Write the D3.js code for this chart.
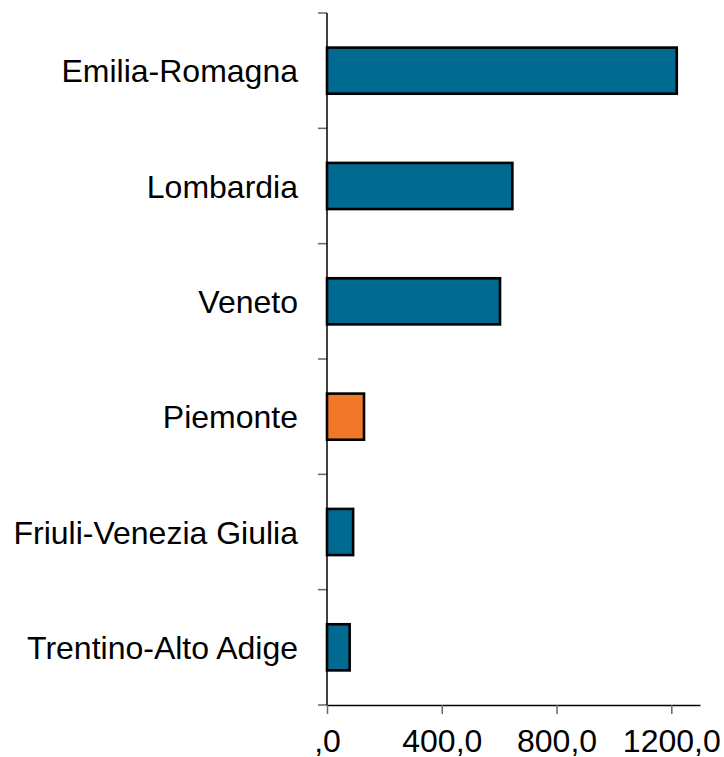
<!DOCTYPE html>
<html>
<head>
<meta charset="utf-8">
<script src="https://cdn.jsdelivr.net/npm/d3@7"></script>
<style>
  body { margin: 0; background: #fff; }
  svg { display: block; font-family: "Liberation Sans", Arial, sans-serif; }
</style>
</head>
<body>
<div id="chart"></div>
<script>
// regions, top to bottom
var regions = ['Emilia-Romagna', 'Lombardia', 'Veneto', 'Piemonte', 'Friuli-Venezia Giulia', 'Trentino-Alto Adige'];
var values = [1219, 646, 603, 129, 91, 79];
var highlight = ['Piemonte'];
var xTicks = [0, 400, 800, 1200];

var width = 724, height = 757;
var margin = {top: 13, left: 327, right: 24, bottom: 52};

var svg = d3.select('#chart').append('svg')
  .attr('width', width)
  .attr('height', height);

var plotW = width - margin.left - margin.right;
var plotH = height - margin.top - margin.bottom;

var x = d3.scaleLinear().domain([0, 1300]).range([0, plotW]);
var y = d3.scaleBand().domain(regions).range([0, plotH])
  .paddingInner(0.6).paddingOuter(0.3);

var g = svg.append('g').attr('transform', 'translate(' + margin.left + ',' + margin.top + ')');

// bars
g.selectAll('rect.bar').data(regions)
  .enter().append('rect')
  .attr('class', 'bar')
  .attr('x', 0)
  .attr('y', function (d) { return y(d); })
  .attr('width', function (d, i) { return x(values[i]); })
  .attr('height', y.bandwidth())
  .attr('fill', function (d) { return highlight.indexOf(d) >= 0 ? '#f07828' : '#006a91'; })
  .attr('stroke', '#000')
  .attr('stroke-width', 2.6);

// category labels
g.selectAll('text.cat').data(regions)
  .enter().append('text')
  .attr('class', 'cat')
  .attr('x', -29)
  .attr('y', function (d) { return y(d) + y.bandwidth() / 2; })
  .attr('dy', '0.36em')
  .attr('text-anchor', 'end')
  .attr('font-size', 32)
  .attr('fill', '#000')
  .text(function (d) { return d; });

// y axis: ticks at the category boundaries
var step = y.step();
var bounds = d3.range(regions.length + 1).map(function (i) { return i * step; });
g.selectAll('line.ytick').data(bounds)
  .enter().append('line')
  .attr('class', 'ytick')
  .attr('x1', -9).attr('x2', 0)
  .attr('y1', function (d) { return d; })
  .attr('y2', function (d) { return d; })
  .attr('stroke', '#666')
  .attr('stroke-width', 1.5);

g.append('line')
  .attr('x1', 0).attr('x2', 0)
  .attr('y1', 0).attr('y2', plotH)
  .attr('stroke', '#000')
  .attr('stroke-width', 1.5);

// x axis, italian number format (zero shows as ",0")
var it = d3.formatLocale({decimal: ',', thousands: '.', grouping: [3], currency: ['€', '']});
var fmt = function (v) { return it.format('.1f')(v).replace(/^0,/, ','); };

var xAxis = g.append('g')
  .attr('transform', 'translate(0,' + plotH + ')')
  .call(d3.axisBottom(x).tickValues(xTicks).tickSize(9).tickSizeOuter(0).tickFormat(fmt));

xAxis.select('.domain').attr('stroke', '#000').attr('stroke-width', 1.5);
xAxis.selectAll('.tick line').attr('stroke', '#666').attr('stroke-width', 1.5);
xAxis.selectAll('.tick text')
  .attr('y', 47)
  .attr('dy', '0')
  .attr('font-size', 32)
  .attr('font-family', '"Liberation Sans", Arial, sans-serif')
  .attr('fill', '#000');
</script>
</body>
</html>
